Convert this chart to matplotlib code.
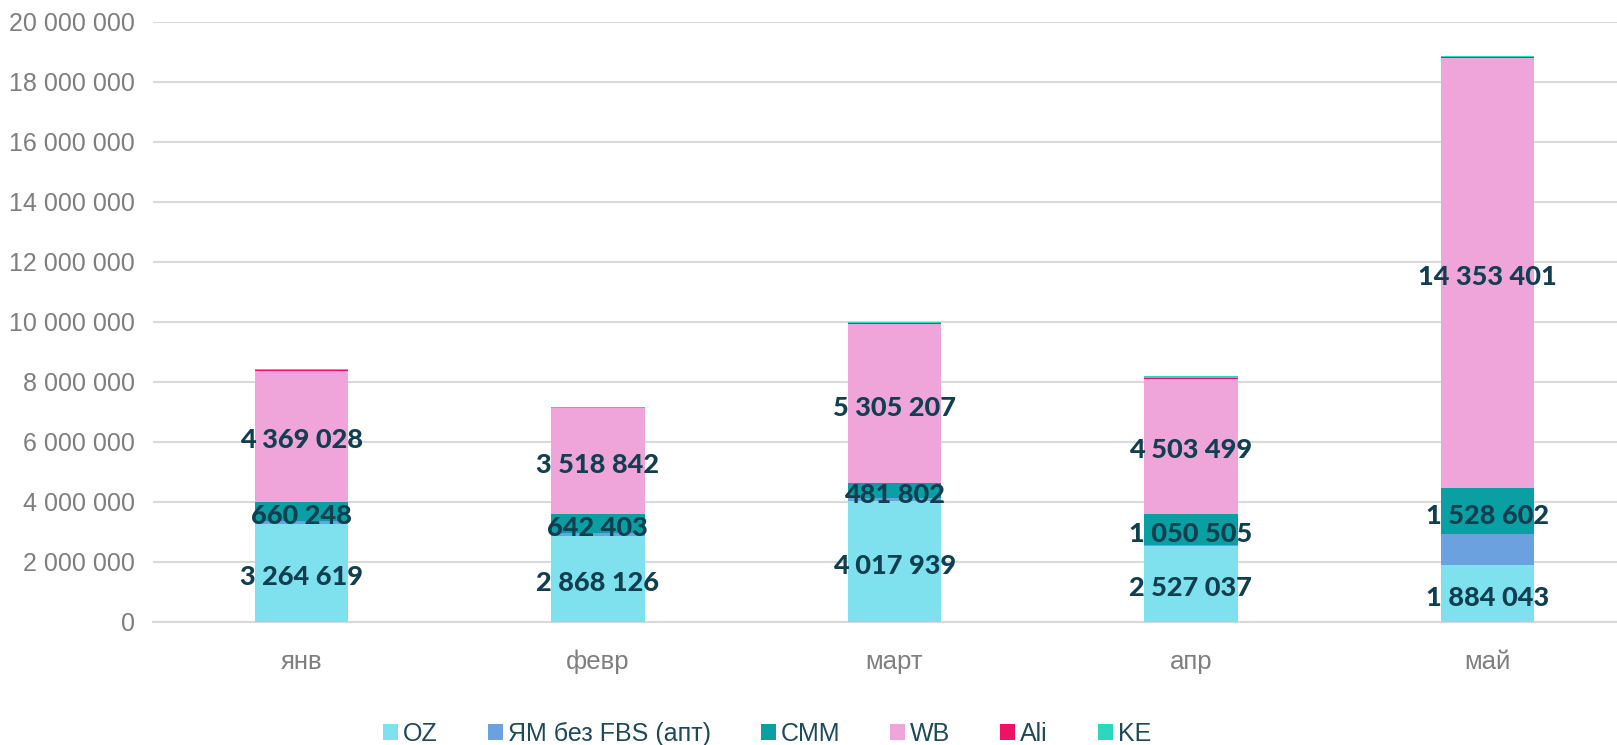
import numpy as np
import matplotlib
matplotlib.use("Agg")
import matplotlib.pyplot as plt

months = ["янв", "февр", "март", "апр", "май"]
series_names = ["OZ", "ЯМ без FBS (апт)", "CMM", "WB", "Ali", "KE"]

oz = [3264619, 2868126, 4017939, 2527037, 1884043]
ym = [80000, 90000, 120000, 20000, 1030000]
cmm = [660248, 642403, 481802, 1050505, 1528602]
wb = [4369028, 3518842, 5305207, 4503499, 14353401]
ali = [25000, 20000, 20000, 30000, 25000]
ke = [30000, 30000, 40000, 60000, 45000]

colors = ["#80E1EE", "#6BA1DE", "#0A9FA2", "#F0A5DA", "#EE1164", "#2BD8BE"]
labelled = {"OZ", "CMM", "WB"}

label_color = "#0F3F50"
grey = "#7F7F7F"

fig = plt.figure(figsize=(16.17, 7.45), dpi=100)
ax = fig.add_axes([153 / 1617, 1 - 621.8 / 745, 1 - 153 / 1617, (621.8 - 21.7) / 745])

x = np.arange(len(months))
width = 0.315
bottom = np.zeros(len(months))
handles = []
for name, vals, col in zip(series_names, [oz, ym, cmm, wb, ali, ke], colors):
    vals = np.array(vals, dtype=float)
    b = ax.bar(x, vals, width, bottom=bottom, color=col, label=name, zorder=3)
    handles.append(b)
    if name in labelled:
        for xi, v, b0 in zip(x, vals, bottom):
            txt = f"{int(v):,}".replace(",", " ")
            ax.annotate(txt, (xi, b0 + v / 2), xytext=(0, -3),
                        textcoords="offset points", ha="center", va="center",
                        fontsize=19.5, fontweight=900, family="Lato",
                        color=label_color, zorder=4)
    bottom += vals

ax.set_xlim(-0.5, 4.437)
ax.set_ylim(0, 20000000)
ax.set_yticks(np.arange(0, 20000001, 2000000))
ax.set_yticklabels([f"{int(t):,}".replace(",", " ") for t in ax.get_yticks()])
ax.set_xticks(x)
ax.set_xticklabels(months)

ax.grid(axis="y", color="#D9D9D9", linewidth=1.5, zorder=0)
for s in ax.spines.values():
    s.set_visible(False)
ax.spines["bottom"].set_visible(True)
ax.spines["bottom"].set_color("#D9D9D9")
ax.spines["bottom"].set_linewidth(1.5)
ax.tick_params(axis="both", length=0, colors=grey)
ax.tick_params(axis="y", pad=13, labelsize=18)
ax.tick_params(axis="x", pad=20, labelsize=18.5)
for lbl in ax.get_xticklabels() + ax.get_yticklabels():
    lbl.set_family("Liberation Sans")
    lbl.set_color(grey)

leg = fig.legend(handles=handles, labels=series_names, loc="center",
                 bbox_to_anchor=(767 / 1617, 1 - 734 / 745), ncol=6,
                 frameon=False, handlelength=0.6, handleheight=0.6,
                 handletextpad=0.2, columnspacing=2.0,
                 prop={"family": "Liberation Sans", "size": 18})
for t in leg.get_texts():
    t.set_color("#1F4A5C")

fig.savefig("out.png", dpi=100)
